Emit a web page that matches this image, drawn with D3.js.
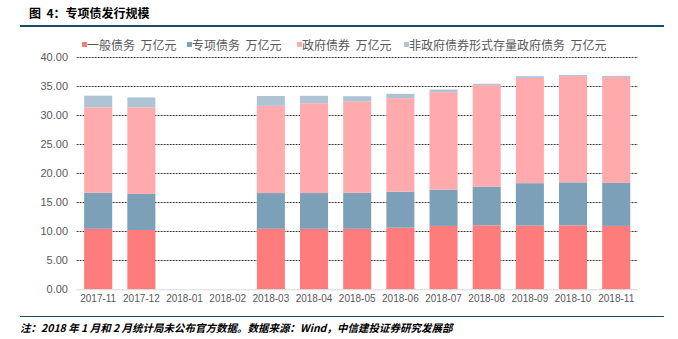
<!DOCTYPE html>
<html><head><meta charset="utf-8">
<script src="https://cdn.jsdelivr.net/npm/d3@7"></script>
<style>
html,body{margin:0;padding:0;background:#fff;}
svg{display:block;}
</style></head>
<body>
<script>
const categories = ["2017-11","2017-12","2018-01","2018-02","2018-03","2018-04","2018-05","2018-06","2018-07","2018-08","2018-09","2018-10","2018-11"];
const generalDebt = [10.4,10.2,null,null,10.4,10.4,10.4,10.6,10.9,11.0,10.95,11.0,10.9];
const specialDebt = [6.2,6.2,null,null,6.15,6.15,6.2,6.2,6.25,6.66,7.3,7.4,7.4];
const govBonds = [14.7,14.9,null,null,15.0,15.45,15.7,16.07,16.75,17.45,18.1,18.25,18.2];
const nonBondDebt = [2.0,1.7,null,null,1.7,1.27,0.9,0.75,0.45,0.23,0.3,0.2,0.2];
const seriesNames = ["一般债务  万亿元","专项债务  万亿元","政府债券  万亿元","非政府债券形式存量政府债务  万亿元"];
const colors = ["#FF7C7D","#7DA0B9","#FFABAE","#AEC4D5"];
const yTicks = [0,5,10,15,20,25,30,35,40];
const titleText = "图  4：专项债发行规模";
const noteText = "注：2018 年 1 月和 2 月统计局未公布官方数据。数据来源：Wind，中信建投证券研究发展部";

const W = 678, H = 339;
const svg = d3.select("body").append("svg").attr("width", W).attr("height", H);

// title
svg.append("text").attr("x", 29).attr("y", 18)
  .attr("font-family", "Noto Sans CJK SC").attr("font-weight", "bold")
  .attr("font-size", 12).attr("fill", "#000")
  .style("white-space", "pre").text(titleText);
svg.append("line").attr("x1", 20).attr("x2", 664).attr("y1", 26).attr("y2", 26)
  .attr("stroke", "#1d4b66").attr("stroke-width", 2);

const x = d3.scaleBand().domain(categories).range([76.6, 637.8]).paddingInner(0.35).paddingOuter(0.175);
const y = d3.scaleLinear().domain([0, 40]).range([289.3, 56.7]);

// gridlines
svg.append("g").selectAll("line").data(yTicks.filter(d => d > 0)).join("line")
  .attr("x1", 76.6).attr("x2", 637.8)
  .attr("y1", d => Math.round(y(d)) + 0.5).attr("y2", d => Math.round(y(d)) + 0.5)
  .attr("stroke", "#3a3a3a").attr("stroke-width", 1).attr("stroke-dasharray", "2,1");

// y axis labels
const yAxis = d3.axisLeft(y).tickValues(yTicks).tickFormat(d3.format(".2f")).tickSize(0).tickPadding(0);
const gy = svg.append("g").attr("transform", "translate(68,0)").call(yAxis);
gy.select(".domain").remove();
gy.selectAll("text").attr("font-family", "Liberation Sans, Arial").attr("font-size", 11).attr("fill", "#595959");

// stacked bars
const rows = categories.map((c, i) => ({cat: c, s0: generalDebt[i], s1: specialDebt[i], s2: govBonds[i], s3: nonBondDebt[i]}));
const stack = d3.stack().keys(["s0","s1","s2","s3"]).value((d, k) => d[k] == null ? 0 : d[k]);
const stacked = stack(rows);
svg.append("g").selectAll("g").data(stacked).join("g")
  .attr("fill", (d, i) => colors[i])
  .selectAll("rect").data(d => d.filter(p => p[1] > p[0])).join("rect")
  .attr("x", d => x(d.data.cat))
  .attr("width", x.bandwidth())
  .attr("y", d => y(d[1]))
  .attr("height", d => y(d[0]) - y(d[1]));

// x axis
const xAxis = d3.axisBottom(x).tickSize(0).tickPadding(6);
const gx = svg.append("g").attr("transform", `translate(0,${y(0)})`).call(xAxis);
gx.select(".domain").attr("stroke", "#d9d9d9").attr("d", `M76.6,0.5H637.8`);
gx.selectAll("text").attr("font-family", "Liberation Sans, Arial").attr("font-size", 10).attr("fill", "#595959");

// legend
const legendX = [82, 187, 297, 404];
const lg = svg.append("g").selectAll("g").data(seriesNames).join("g")
  .attr("transform", (d, i) => `translate(${legendX[i]},46)`);
lg.append("rect").attr("x", 0).attr("y", -4).attr("width", 5).attr("height", 5).attr("fill", (d, i) => colors[i]);
lg.append("text").attr("x", 5).attr("y", 0).attr("dy", "0.35em")
  .attr("font-family", "Noto Sans CJK SC").attr("font-size", 12).attr("fill", "#595959")
  .style("white-space", "pre")
  .text(d => d);

// bottom rule + note
svg.append("line").attr("x1", 20).attr("x2", 664).attr("y1", 316.5).attr("y2", 316.5)
  .attr("stroke", "#1d4b66").attr("stroke-width", 1);
svg.append("text").attr("x", 20).attr("y", 332)
  .attr("font-family", "Noto Sans CJK SC").attr("font-style", "italic").attr("font-weight", "bold")
  .attr("font-size", 10.5).attr("fill", "#000").text(noteText);
</script>
</body></html>
